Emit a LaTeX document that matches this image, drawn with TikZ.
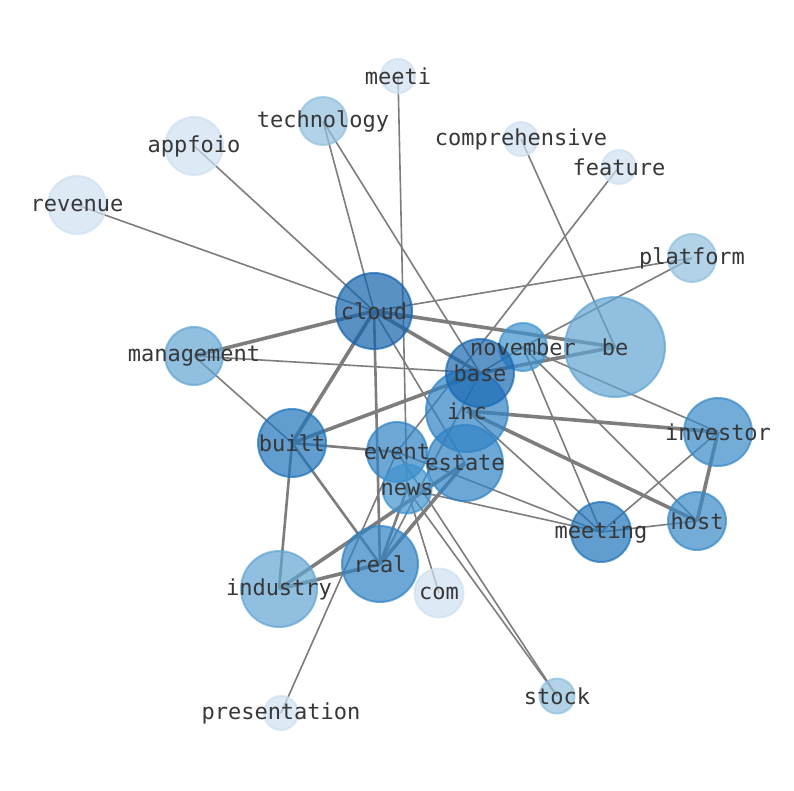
\documentclass[tikz,border=0pt]{standalone}
\usepackage{fontspec}
\setmonofont{DejaVu Sans Mono}
\usetikzlibrary{backgrounds}
\pgfdeclarelayer{paper}
\pgfsetlayers{paper,background,main}
\definecolor{cA}{RGB}{21,99,172}
\definecolor{cB}{RGB}{25,105,178}
\definecolor{cC}{RGB}{30,116,186}
\definecolor{cD}{RGB}{48,131,197}
\definecolor{cE}{RGB}{56,137,199}
\definecolor{cF}{RGB}{64,147,207}
\definecolor{cG}{RGB}{97,165,211}
\definecolor{cH}{RGB}{144,192,222}
\definecolor{cI}{RGB}{207,224,241}
\definecolor{edgegray}{RGB}{125,125,125}
\definecolor{txt}{RGB}{55,55,55}
\tikzset{
  nd/.style={circle, inner sep=0pt, opacity=0.7, line width=2pt},
  lbl/.style={inner sep=0pt, text=txt, font=\ttfamily\fontsize{22}{22}\selectfont},
  ethin/.style={draw=edgegray, line width=1.6pt},
  emid/.style={draw=edgegray, line width=2.6pt},
  ethick/.style={draw=edgegray, line width=3.6pt},
}
\begin{document}
\begin{tikzpicture}[x=1pt,y=-1pt]
\useasboundingbox (0,0) rectangle (794,790);
\begin{pgfonlayer}{paper}
\fill[white] (0,0) rectangle (794,790);
\end{pgfonlayer}
% circles
\node[nd, minimum size=34pt, fill=cI, draw=cI] (meeti) at (398,76) {};
\node[nd, minimum size=48pt, fill=cH, draw=cH] (technology) at (323,121) {};
\node[nd, minimum size=34pt, fill=cI, draw=cI] (comprehensive) at (521,139) {};
\node[nd, minimum size=58pt, fill=cI, draw=cI] (appfoio) at (194,146) {};
\node[nd, minimum size=34pt, fill=cI, draw=cI] (feature) at (619,167) {};
\node[nd, minimum size=58pt, fill=cI, draw=cI] (revenue) at (77,205) {};
\node[nd, minimum size=48pt, fill=cH, draw=cH] (platform) at (692,258) {};
\node[nd, minimum size=76pt, fill=cA, draw=cA] (cloud) at (374,311) {};
\node[nd, minimum size=58pt, fill=cG, draw=cG] (management) at (194,356) {};
\node[nd, minimum size=100pt, fill=cG, draw=cG] (be) at (615,347) {};
\node[nd, minimum size=48pt, fill=cF, draw=cF] (november) at (523,347) {};
\node[nd, minimum size=82pt, fill=cD, draw=cD] (inc) at (467,411) {};
\node[nd, minimum size=68pt, fill=cB, draw=cB] (base) at (480,373) {};
\node[nd, minimum size=68pt, fill=cE, draw=cE] (investor) at (718,432) {};
\node[nd, minimum size=68pt, fill=cC, draw=cC] (built) at (292,443) {};
\node[nd, minimum size=60pt, fill=cD, draw=cD] (event) at (397,452) {};
\node[nd, minimum size=76pt, fill=cD, draw=cD] (estate) at (465,463) {};
\node[nd, minimum size=49pt, fill=cF, draw=cF] (news) at (407,489) {};
\node[nd, minimum size=60pt, fill=cC, draw=cC] (meeting) at (601,532) {};
\node[nd, minimum size=58pt, fill=cE, draw=cE] (host) at (697,521) {};
\node[nd, minimum size=76pt, fill=cG, draw=cG] (industry) at (279,589) {};
\node[nd, minimum size=76pt, fill=cD, draw=cD] (real) at (380,564) {};
\node[nd, minimum size=49pt, fill=cI, draw=cI] (com) at (439,593) {};
\node[nd, minimum size=35pt, fill=cH, draw=cH] (stock) at (557,696) {};
\node[nd, minimum size=34pt, fill=cI, draw=cI] (presentation) at (281,713) {};
% edges
\begin{pgfonlayer}{background}
\draw[ethin] (revenue.center) -- (cloud.center);
\draw[ethin] (appfoio.center) -- (cloud.center);
\draw[ethin] (technology.center) -- (cloud.center);
\draw[ethin] (technology.center) -- (base.center);
\draw[ethin] (meeti.center) -- (news.center);
\draw[ethin] (comprehensive.center) -- (be.center);
\draw[ethin] (feature.center) -- (event.center);
\draw[ethin] (platform.center) -- (cloud.center);
\draw[ethin] (platform.center) -- (november.center);
\draw[ethick] (management.center) -- (cloud.center);
\draw[ethin] (management.center) -- (base.center);
\draw[ethin] (management.center) -- (built.center);
\draw[ethick] (cloud.center) -- (be.center);
\draw[ethick] (cloud.center) -- (base.center);
\draw[ethick] (cloud.center) -- (built.center);
\draw[emid] (cloud.center) -- (real.center);
\draw[ethin] (cloud.center) -- (estate.center);
\draw[ethin] (november.center) -- (base.center);
\draw[ethin] (november.center) -- (investor.center);
\draw[ethin] (november.center) -- (host.center);
\draw[ethin] (november.center) -- (meeting.center);
\draw[ethick] (base.center) -- (be.center);
\draw[ethick] (built.center) -- (base.center);
\draw[ethin] (real.center) -- (base.center);
\draw[ethick] (inc.center) -- (investor.center);
\draw[ethick] (inc.center) -- (host.center);
\draw[ethin] (inc.center) -- (meeting.center);
\draw[ethick] (investor.center) -- (host.center);
\draw[ethin] (investor.center) -- (meeting.center);
\draw[ethin] (meeting.center) -- (host.center);
\draw[emid] (built.center) -- (event.center);
\draw[emid] (built.center) -- (industry.center);
\draw[emid] (built.center) -- (real.center);
\draw[ethin] (event.center) -- (meeting.center);
\draw[ethin] (news.center) -- (meeting.center);
\draw[ethin] (event.center) -- (stock.center);
\draw[ethin] (news.center) -- (stock.center);
\draw[ethin] (news.center) -- (com.center);
\draw[emid] (news.center) -- (real.center);
\draw[ethin] (presentation.center) -- (event.center);
\draw[ethick] (industry.center) -- (real.center);
\draw[ethick] (industry.center) -- (estate.center);
\draw[ethick] (real.center) -- (estate.center);
\end{pgfonlayer}
% labels
\node[lbl] (Lmeeti) at (meeti) {meeti};
\node[lbl] (Ltechnology) at (technology) {technology};
\node[lbl] (Lcomprehensive) at (comprehensive) {comprehensive};
\node[lbl] (Lappfoio) at (appfoio) {appfoio};
\node[lbl] (Lfeature) at (feature) {feature};
\node[lbl] (Lrevenue) at (revenue) {revenue};
\node[lbl] (Lplatform) at (platform) {platform};
\node[lbl] (Lcloud) at (cloud) {cloud};
\node[lbl] (Lmanagement) at (management) {management};
\node[lbl] (Lbe) at (be) {be};
\node[lbl] (Lnovember) at (november) {november};
\node[lbl] (Linc) at (inc) {inc};
\node[lbl] (Lbase) at (base) {base};
\node[lbl] (Linvestor) at (investor) {investor};
\node[lbl] (Lbuilt) at (built) {built};
\node[lbl] (Levent) at (event) {event};
\node[lbl] (Lestate) at (estate) {estate};
\node[lbl] (Lnews) at (news) {news};
\node[lbl] (Lmeeting) at (meeting) {meeting};
\node[lbl] (Lhost) at (host) {host};
\node[lbl] (Lindustry) at (industry) {industry};
\node[lbl] (Lreal) at (real) {real};
\node[lbl] (Lcom) at (com) {com};
\node[lbl] (Lstock) at (stock) {stock};
\node[lbl] (Lpresentation) at (presentation) {presentation};
\end{tikzpicture}
\end{document}
